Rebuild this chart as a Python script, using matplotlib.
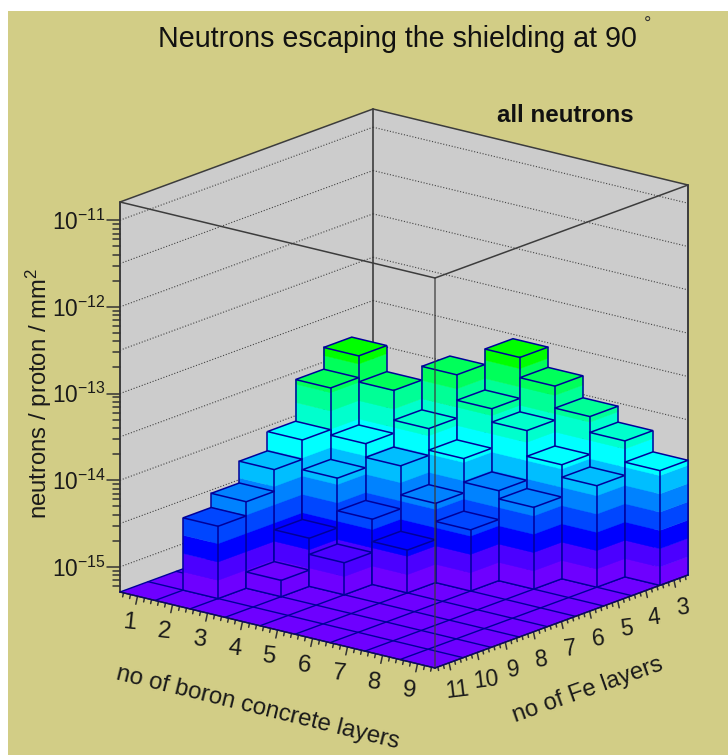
import numpy as np
import matplotlib
matplotlib.use('Agg')
import matplotlib.pyplot as plt
from matplotlib.patches import Polygon, Rectangle

plt.rcParams['font.family'] = ['Liberation Sans', 'DejaVu Sans']
plt.rcParams['mathtext.fontset'] = 'custom'
plt.rcParams['mathtext.rm'] = 'Liberation Sans'
plt.rcParams['mathtext.default'] = 'regular'

# axis labels
boron_layers = [1, 2, 3, 4, 5, 6, 7, 8, 9]
fe_layers = [11, 10, 9, 8, 7, 6, 5, 4, 3]
z_decades = [-15, -14, -13, -12, -11]

# neutrons / proton / mm2, one list per boron layer count, Fe = 11 ... 3 (0 = empty bin)
boron_1 = [0, 0, 0, 0, 0, 0, 0, 0, 0]
boron_2 = [0, 3.5e-15, 5.1e-15, 9.1e-15, 1.52e-14, 4.6e-14, 8.2e-14, 0, 0]
boron_3 = [0, 0, 7.9e-16, 1.84e-15, 6.9e-15, 1.31e-14, 4.1e-14, 0, 0]
boron_4 = [0, 0, 0, 1.2e-15, 2.9e-15, 9.1e-15, 1.86e-14, 5.9e-14, 0]
boron_5 = [0, 0, 0, 0, 1.6e-15, 4.2e-15, 1.05e-14, 3.0e-14, 8.9e-14]
boron_6 = [0, 0, 0, 0, 0, 2.6e-15, 5.6e-15, 2.1e-14, 5.2e-14]
boron_7 = [0, 0, 0, 0, 0, 0, 4.5e-15, 1.06e-14, 2.9e-14]
boron_8 = [0, 0, 0, 0, 0, 0, 0, 7.6e-15, 1.9e-14]
boron_9 = [0, 0, 0, 0, 0, 0, 0, 0, 1.08e-14]
neutrons = [boron_1, boron_2, boron_3, boron_4, boron_5, boron_6, boron_7, boron_8, boron_9]

# palette bands, bottom to top
band_colors = ['#6e00ff', '#4b00ff', '#0000ff', '#0046ff', '#0082ff', '#00beff',
               '#00ffff', '#00ffcd', '#00ff96', '#00ff5a', '#00ff00']

# z range of the box
z_min = -15.29
z_max = -10.79
band_step = 0.211

# box corners in pixels
Lx, Ly = 120, 592
Fx, Fy = 435, 668
Rx, Ry = 688, 575
box_h = 390


def project(x, fe, logz):
    u = (x - 0.5) / 9
    v = (11.5 - fe) / 9
    t = (logz - z_min) / (z_max - z_min)
    return (Lx + u * (Fx - Lx) + v * (Rx - Fx),
            Ly + u * (Fy - Ly) + v * (Ry - Fy) - t * box_h)


fig = plt.figure(figsize=(7.28, 7.55), dpi=100)
ax = fig.add_axes([0, 0, 1, 1])
ax.set_xlim(0, 728)
ax.set_ylim(755, 0)
ax.axis('off')
ax.add_patch(Rectangle((8, 11), 720, 744, fc='#d2cd86', ec='none'))

x0, x1 = 0.5, 9.5
fe0, fe1 = 11.5, 2.5
edge = '#00009a'
box = '#3c3c3c'


def quad(pts, fc, ec='none', lw=0, z=1):
    ax.add_patch(Polygon(pts, closed=True, fc=fc, ec=ec, lw=lw, zorder=z))


def line(p, q, color=box, lw=1.1, ls='-', z=2, alpha=1):
    ax.plot([p[0], q[0]], [p[1], q[1]], color=color, lw=lw, ls=ls, zorder=z, alpha=alpha,
            solid_capstyle='round')


# back walls
quad([project(x0, fe0, z_min), project(x0, fe1, z_min), project(x0, fe1, z_max), project(x0, fe0, z_max)], '#cccccc')
quad([project(x0, fe1, z_min), project(x1, fe1, z_min), project(x1, fe1, z_max), project(x0, fe1, z_max)], '#cccccc')

# dotted grid on the walls, every half decade
for g in np.arange(z_decades[0], z_decades[-1] + 0.1, 0.5):
    line(project(x0, fe0, g), project(x0, fe1, g), color='#444444', lw=0.8, ls=(0, (1, 1.6)))
    line(project(x0, fe1, g), project(x1, fe1, g), color='#444444', lw=0.8, ls=(0, (1, 1.6)))

line(project(x0, fe1, z_min), project(x0, fe1, z_max), lw=1.2)
line(project(x1, fe1, z_min), project(x1, fe1, z_max), lw=1.4)
line(project(x0, fe0, z_max), project(x0, fe1, z_max))
line(project(x0, fe1, z_max), project(x1, fe1, z_max))
line(project(x0, fe0, z_min), project(x0, fe0, z_max), lw=1.4)

# floor
quad([project(x0, fe0, z_min), project(x1, fe0, z_min), project(x1, fe1, z_min), project(x0, fe1, z_min)],
     band_colors[0], z=3)
for i in range(10):
    line(project(x0 + i, fe0, z_min), project(x0 + i, fe1, z_min), color=edge, lw=1.0, z=3)
    line(project(x0, fe0 - i, z_min), project(x1, fe0 - i, z_min), color=edge, lw=1.0, z=3)

# bars, back to front
order = 4
for a, x in enumerate(boron_layers):
    for b in range(len(fe_layers) - 1, -1, -1):
        val = neutrons[a][b]
        if val <= 0:
            continue
        fe = fe_layers[b]
        top = np.log10(val)
        xa, xb = x - 0.5, x + 0.5
        fa, fb = fe + 0.5, fe - 0.5
        n_bands = int(np.ceil((top - z_min) / band_step))
        for k in range(n_bands):
            lo = z_min + k * band_step
            hi = min(z_min + (k + 1) * band_step, top)
            c = band_colors[k]
            for pts in ([project(xa, fa, lo), project(xb, fa, lo), project(xb, fa, hi), project(xa, fa, hi)],
                        [project(xb, fa, lo), project(xb, fb, lo), project(xb, fb, hi), project(xb, fa, hi)]):
                quad(pts, c, ec=c, lw=0.3, z=order)
        tc = band_colors[n_bands - 1]
        corners = [project(xa, fa, top), project(xb, fa, top), project(xb, fb, top), project(xa, fb, top)]
        quad(corners, tc, ec=edge, lw=1.1, z=order)
        for vx, vf in ((xa, fa), (xb, fa), (xb, fb)):
            line(project(vx, vf, z_min), project(vx, vf, top), color=edge, lw=1.1, z=order)
        line(project(xa, fa, z_min), project(xb, fa, z_min), color=edge, lw=1.0, z=order)
        line(project(xb, fa, z_min), project(xb, fb, z_min), color=edge, lw=1.0, z=order)
        order += 1

# front edges of the box on top of everything
order += 1
line(project(x0, fe0, z_max), project(x1, fe0, z_max), z=order)
line(project(x1, fe0, z_max), project(x1, fe1, z_max), z=order)
line(project(x1, fe0, z_min), project(x1, fe0, z_max), z=order, lw=1.2, alpha=0.75)
line(project(x0, fe0, z_min), project(x1, fe0, z_min), color='#101050', lw=1.0, z=order)
line(project(x1, fe0, z_min), project(x1, fe1, z_min), color='#101050', lw=1.0, z=order)

# x axis ticks and labels
for m in np.arange(0.6, 9.41, 0.2):
    p = project(m, fe0, z_min)
    major = abs(m - round(m)) < 0.01
    s = 1.0 if major else 0.5
    line(p, (p[0] - 1.7 * s, p[1] + 8 * s), color='#333333', lw=1.1)
for x in boron_layers:
    p = project(x, fe0, z_min)
    ax.text(p[0] - 8, p[1] + 27, str(x), fontsize=17.5, ha='center', va='center', rotation=-6, color='#1a1a1a')

# Fe axis ticks and labels
for m in np.arange(2.6, 11.41, 0.2):
    p = project(x1, m, z_min)
    major = abs(m - round(m)) < 0.01
    s = 1.0 if major else 0.5
    line(p, (p[0] + 1.5 * s, p[1] + 7 * s), color='#333333', lw=1.1)
for fe in fe_layers:
    p = project(x1, fe, z_min)
    ax.text(p[0] + 8.5, p[1] + 27.5, str(fe), fontsize=16.5, ha='center', va='center', rotation=7, color='#1a1a1a')

# z axis ticks and labels
for d in z_decades:
    p = project(x0, fe0, d)
    line(p, (p[0] - 13, p[1]), color='#333333', lw=1.1)
    ax.text(p[0] - 14, p[1] + 2, '$10^{%d}$' % d, fontsize=16.4, ha='right', va='center', color='#1a1a1a')
    for mult in range(2, 10):
        lz = d + np.log10(mult) - 1
        if lz > z_min:
            p = project(x0, fe0, lz)
            line(p, (p[0] - 7, p[1]), color='#333333', lw=1.1)

# titles
ax.text(397, 39, 'Neutrons escaping the shielding at 90', fontsize=20.6, ha='center', va='center', color='#111111')
ax.text(648, 24, '\u00b0', fontsize=13, ha='center', va='center', color='#333333')
ax.text(565, 116, 'all neutrons', fontsize=17.4, fontweight='bold', ha='center', va='center', color='#111111')
ax.text(38.5, 394, 'neutrons / proton / mm$^{2}$', fontsize=17.2, rotation=90, ha='center', va='center', color='#1a1a1a')
ax.text(258, 708, 'no of boron concrete layers', fontsize=17.3, rotation=-13.8, ha='center', va='center',
        rotation_mode='anchor', color='#1a1a1a')
ax.text(588, 690, 'no of Fe layers', fontsize=17.2, rotation=19.5, ha='center', va='center',
        rotation_mode='anchor', color='#1a1a1a')

fig.savefig('out.png', dpi=100)
